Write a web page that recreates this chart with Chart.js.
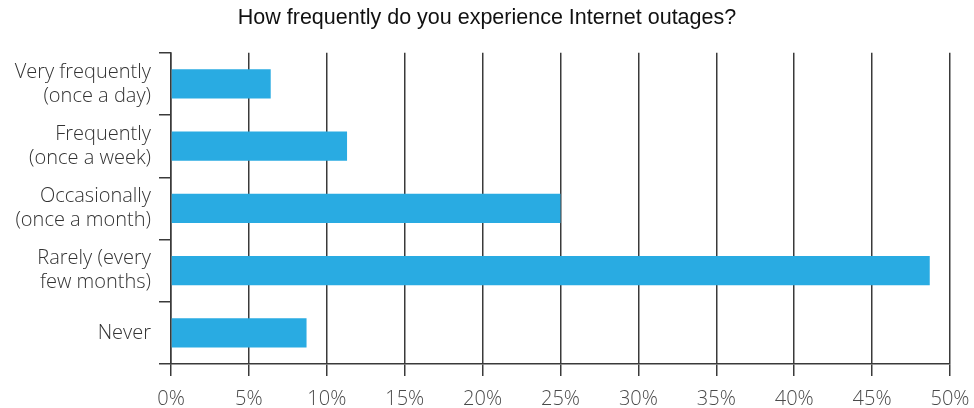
<!DOCTYPE html>
<html>
<head>
<meta charset="utf-8">
<script src="https://cdn.jsdelivr.net/npm/chart.js@4/dist/chart.umd.min.js"></script>
<style>
  html, body { margin: 0; padding: 0; background: #fff; }
  #wrap { width: 974px; height: 408px; }
</style>
</head>
<body>
<div id="wrap"><canvas id="outageChart"></canvas></div>
<script>
// Survey answers, one bar per answer
const answers = [
  ['Very frequently', '(once a day)'],
  ['Frequently', '(once a week)'],
  ['Occasionally', '(once a month)'],
  ['Rarely (every', 'few months)'],
  'Never'
];
const sharePct = [6.4, 11.3, 25.0, 48.7, 8.7];
const axisMax = 50;
const axisStep = 5;

const lineColor = '#3a3a3a';
const barColor = '#29abe2';
const labelFont = { family: 'Open Sans', size: 20, weight: '300', lineHeight: 1.2 };

document.addEventListener('DOMContentLoaded', () => {
  const ctx = document.getElementById('outageChart').getContext('2d');

  new Chart(ctx, {
    type: 'bar',
    data: {
      labels: answers,
      datasets: [{
        data: sharePct,
        backgroundColor: barColor,
        borderWidth: 0,
        barPercentage: 0.47,
        categoryPercentage: 1
      }]
    },
    options: {
      indexAxis: 'y',
      responsive: true,
      maintainAspectRatio: false,
      animation: false,
      layout: { padding: { left: 0, right: 0, top: 0, bottom: 0 } },
      plugins: {
        legend: { display: false },
        tooltip: { enabled: false },
        title: {
          display: true,
          text: 'How frequently do you experience Internet outages?',
          color: '#111',
          font: { family: 'Liberation Sans', size: 21.5, weight: '400' },
          padding: { top: 5, bottom: 22 }
        }
      },
      scales: {
        x: {
          min: 0,
          max: axisMax,
          // fixed strip under the plot, and less room kept for the "50%" overhang
          afterFit: scale => {
            scale.height = 44;
            scale.paddingRight = 24;
          },
          ticks: {
            stepSize: axisStep,
            color: '#4a4a4a',
            font: { ...labelFont, lineHeight: 1.0 },
            padding: 13,
            callback: v => v + '%'
          },
          grid: {
            color: lineColor,
            lineWidth: 1.5,
            tickLength: 12,
            drawOnChartArea: true
          },
          border: { color: lineColor, width: 1.5 }
        },
        y: {
          // keep the category column a fixed width so the plot starts at 171px
          afterFit: scale => { scale.width = 171; },
          ticks: {
            color: '#333',
            font: labelFont,
            padding: 8
          },
          grid: {
            offset: true,
            color: lineColor,
            lineWidth: 1.5,
            tickLength: 12,
            drawOnChartArea: false
          },
          border: { color: lineColor, width: 1.5 }
        }
      }
    }
  });
});
</script>
</body>
</html>
